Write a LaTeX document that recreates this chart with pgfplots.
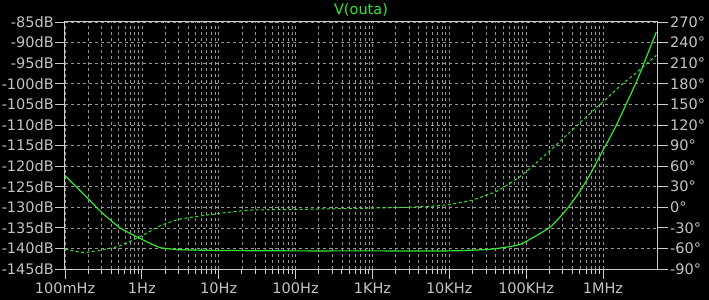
\documentclass[border=0pt]{standalone}
\usepackage{fontspec}
\setmainfont{DejaVu Sans}
\usepackage{pgfplots}
\pgfplotsset{compat=1.18}
\definecolor{trace}{RGB}{50,230,50}
\definecolor{framec}{RGB}{205,205,205}
\definecolor{gridc}{RGB}{150,150,150}
\definecolor{txt}{RGB}{195,195,195}
\newcommand{\lbl}{\fontsize{14.5bp}{17bp}\selectfont}
\begin{document}
\begin{tikzpicture}
\fill[black] (0,0) rectangle (709bp,300bp);
\path[use as bounding box] (0,0) rectangle (709bp,300bp);
\begin{axis}[
  at={(65bp,31bp)}, anchor=south west, scale only axis,
  width=592bp, height=247bp,
  xmode=log, xmin=0.1, xmax=5.05e6, ymin=-145, ymax=-85,
  axis line style={framec, line width=1bp},
  xtick={0.1,1,10,100,1000,10000,100000,1000000},
  xticklabels={100mHz,1Hz,10Hz,100Hz,1KHz,10KHz,100KHz,1MHz},
  ytick={-145,-140,-135,-130,-125,-120,-115,-110,-105,-100,-95,-90,-85},
  yticklabels={-145dB,-140dB,-135dB,-130dB,-125dB,-120dB,-115dB,-110dB,-105dB,-100dB,-95dB,-90dB,-85dB},
  tick align=outside, xtick pos=left, ytick pos=left,
  major tick length=10bp, minor tick length=5bp,
  every tick/.style={framec, line width=0.8bp},
  xmajorgrids, xminorgrids, ymajorgrids,
  major grid style={gridc, dash pattern=on 3bp off 3bp, line width=0.6bp},
  minor grid style={gridc, dash pattern=on 3bp off 3bp, line width=0.6bp},
  ticklabel style={txt, font=\lbl},
  yticklabel style={inner xsep=1bp},
  title={V(outa)},
  title style={trace, font=\lbl, at={(0.5,1)}, anchor=center, yshift=6bp},
]
\addplot[trace, line width=1.2bp, smooth, tension=0.3] coordinates {
(0.1,-122.3) (0.2,-127.9) (0.286,-130.9) (0.52,-135.0) (1,-137.8) (1.73,-139.8) (3.1,-140.3)
(10,-140.5) (100,-140.6) (1000,-140.6) (10000,-140.6) (34200,-140.2)
(84000,-139.0) (206000,-134.8) (341000,-130.4) (508000,-126.0) (686000,-121.9) (1000000,-116.2)
(1450000,-110.6) (2060000,-104.5) (2780000,-99.2) (3390000,-95.2) (4140000,-91.1) (4950000,-87.4)
};
\end{axis}
\begin{axis}[
  at={(65bp,31bp)}, anchor=south west, scale only axis,
  width=592bp, height=247bp,
  xmode=log, xmin=0.1, xmax=5.05e6, ymin=-90, ymax=270,
  axis x line=none, axis y line*=right,
  axis line style={framec, line width=1bp},
  ytick={-90,-60,-30,0,30,60,90,120,150,180,210,240,270},
  yticklabels={-90°,-60°,-30°,0°,30°,60°,90°,120°,150°,180°,210°,240°,270°},
  tick align=outside,
  major tick length=11bp,
  every tick/.style={framec, line width=0.8bp},
  ticklabel style={txt, font=\lbl},
  yticklabel style={inner xsep=2bp},
]
\addplot[trace, line width=1bp, dash pattern=on 3bp off 2.5bp, smooth, tension=0.3] coordinates {
(0.1,-61) (0.17,-66) (0.286,-62.6) (0.52,-56.3) (1,-41.7) (1.73,-27) (3.1,-17.3)
(10,-9.1) (25.8,-4.1) (100,-3.2) (1000,-1.2) (3000,0) (7600,2.5) (18600,9.5) (41800,23.5)
(84000,45) (206000,82.7) (540000,126.6) (1000000,153.5)
(1680000,177) (2510000,192.7) (4950000,221.3)
};
\end{axis}
\end{tikzpicture}
\end{document}
